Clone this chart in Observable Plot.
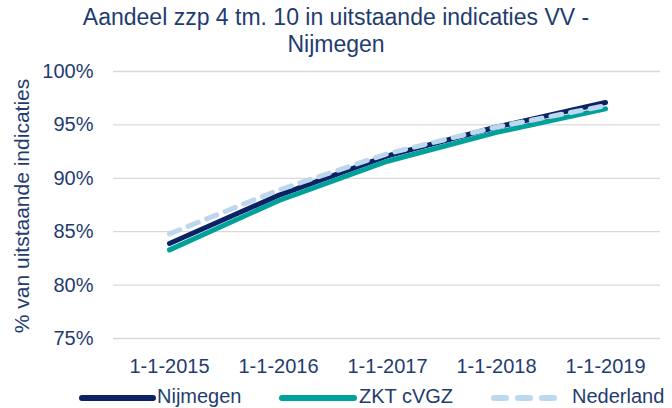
<!DOCTYPE html>
<html>
<head>
<meta charset="utf-8">
<script src="https://cdn.jsdelivr.net/npm/d3@7"></script>
<script src="https://cdn.jsdelivr.net/npm/@observablehq/plot@0.6"></script>
<style>
  html, body { margin: 0; padding: 0; background: #fff; }
  #wrap { position: relative; width: 672px; height: 408px; overflow: hidden; font-family: "Liberation Sans", Arial, sans-serif; color: #1f3c70; }
  #title { position: absolute; left: 0; top: 4px; width: 672px; text-align: center; font-size: 23px; line-height: 27px; z-index: 2; }
  #chart { position: absolute; left: 0; top: 52px; }
  #ylabel { position: absolute; left: 22px; top: 206px; transform: translate(-50%, -50%) rotate(-90deg); white-space: nowrap; font-size: 21px; }
  .leg { position: absolute; top: 384px; font-size: 20px; line-height: 24px; white-space: nowrap; }
  .sw { position: absolute; top: 392px; }
</style>
</head>
<body>
<div id="wrap">
  <div id="chart"></div>
  <div id="title">Aandeel zzp 4 tm. 10 in uitstaande indicaties VV -<br>Nijmegen</div>
  <div id="ylabel">% van uitstaande indicaties</div>
  <div id="legend"></div>
</div>
<script>
const dates = ["1-1-2015", "1-1-2016", "1-1-2017", "1-1-2018", "1-1-2019"];
const nijmegen = [83.9, 88.4, 92.1, 94.8, 97.1];
const zktCvgz = [83.3, 87.9, 91.6, 94.3, 96.5];
const nederland = [84.8, 88.9, 92.3, 94.8, 96.8];
const yTicks = [75, 80, 85, 90, 95, 100];
const seriesNames = ["Nijmegen", "ZKT cVGZ", "Nederland"];

const colors = { "Nijmegen": "#0b2265", "ZKT cVGZ": "#00a19a", "Nederland": "#bdd7ee" };
const textColor = "#1f3c70";

const rows = (name, vals) => dates.map((d, i) => ({ date: d, value: vals[i], series: name }));
const dN = rows("Nijmegen", nijmegen);
const dZ = rows("ZKT cVGZ", zktCvgz);
const dL = rows("Nederland", nederland);

const chart = Plot.plot({
  width: 672,
  height: 326,
  marginLeft: 113,
  marginRight: 12,
  marginTop: 19,
  marginBottom: 40,
  style: { fontFamily: "'Liberation Sans', Arial, sans-serif", fontSize: "20px", color: textColor, background: "transparent" },
  x: { type: "point", domain: dates, padding: 0.5, label: null },
  y: { domain: [75, 100], label: null },
  marks: [
    Plot.gridY(yTicks, { stroke: "#d9d9d9", strokeOpacity: 1, strokeWidth: 1.3 }),
    Plot.axisY({ ticks: yTicks, tickSize: 0, tickPadding: 20, tickFormat: d => d + "%", label: null, fill: textColor }),
    Plot.axisX({ tickSize: 0, tickPadding: 20, label: null, fill: textColor }),
    Plot.line(dN, { x: "date", y: "value", stroke: colors["Nijmegen"], strokeWidth: 5, strokeLinecap: "round" }),
    Plot.line(dZ, { x: "date", y: "value", stroke: colors["ZKT cVGZ"], strokeWidth: 5, strokeLinecap: "round" }),
    Plot.line(dL, { x: "date", y: "value", stroke: colors["Nederland"], strokeWidth: 5, strokeLinecap: "round", strokeDasharray: "11,9" })
  ]
});
document.getElementById("chart").appendChild(chart);

// legend
const legend = document.getElementById("legend");
const legPos = [
  { sw: 82, swW: 71, tx: 157 },
  { sw: 282, swW: 72, tx: 359 },
  { sw: 494, swW: 66, tx: 572 }
];
seriesNames.forEach((name, i) => {
  const p = legPos[i];
  const ns = "http://www.w3.org/2000/svg";
  const svg = document.createElementNS(ns, "svg");
  svg.setAttribute("class", "sw");
  svg.setAttribute("width", p.swW + 6);
  svg.setAttribute("height", 12);
  svg.style.left = (p.sw - 3) + "px";
  const ln = document.createElementNS(ns, "line");
  ln.setAttribute("x1", 3); ln.setAttribute("x2", p.swW + 3);
  ln.setAttribute("y1", 6); ln.setAttribute("y2", 6);
  ln.setAttribute("stroke", colors[name]);
  ln.setAttribute("stroke-width", 6);
  ln.setAttribute("stroke-linecap", "round");
  if (name === "Nederland") ln.setAttribute("stroke-dasharray", "12,12");
  svg.appendChild(ln);
  legend.appendChild(svg);
  const sp = document.createElement("span");
  sp.className = "leg";
  sp.style.left = p.tx + "px";
  sp.textContent = name;
  legend.appendChild(sp);
});
</script>
</body>
</html>
